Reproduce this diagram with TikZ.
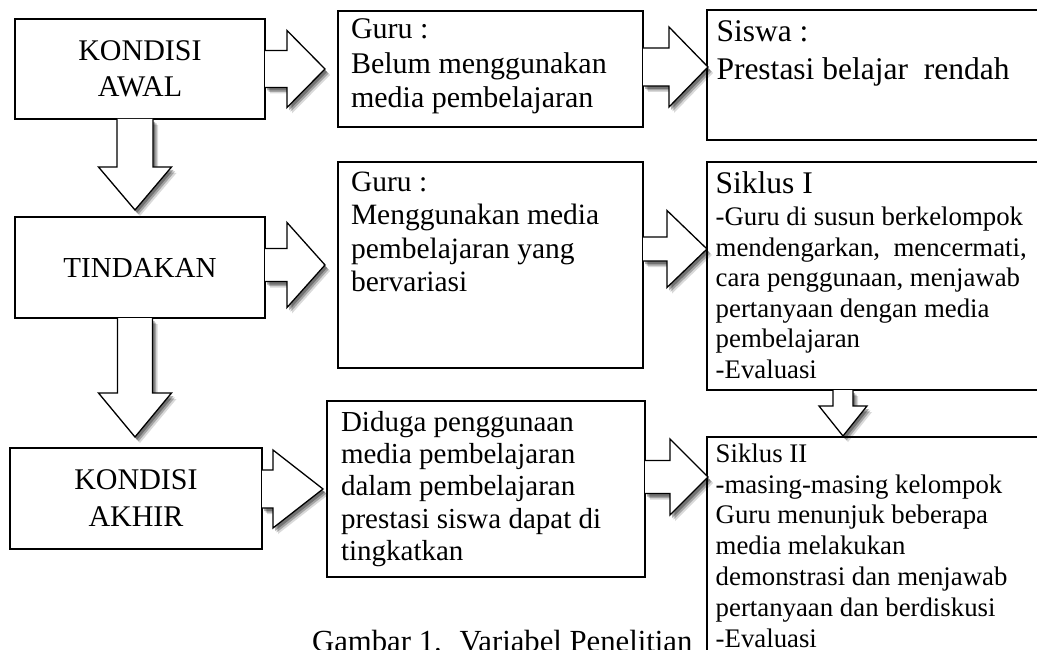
\documentclass[tikz,border=0pt]{standalone}
\usepackage{fontspec}
\setmainfont{Liberation Serif}
\usepackage{tikz}
\usetikzlibrary{positioning,calc,shadows}

% block arrows between boxes: start, tip, shaft half width, head half width, head length
\newcommand{\blockright}[5]{%
  \path[blockarrow] let \p1=(#1), \p2=(#2) in
    (\x1,\y2+#3) -- (\x2-#5,\y2+#3) -- (\x2-#5,\y2+#4) -- (\x2,\y2)
    -- (\x2-#5,\y2-#4) -- (\x2-#5,\y2-#3) -- (\x1,\y2-#3);}
\newcommand{\blockdown}[5]{%
  \path[blockarrow] let \p1=(#1), \p2=(#2) in
    (\x2+#3,\y1) -- (\x2+#3,\y2+#5) -- (\x2+#4,\y2+#5) -- (\x2,\y2)
    -- (\x2-#4,\y2+#5) -- (\x2-#3,\y2+#5) -- (\x2-#3,\y1);}

\begin{document}
\begin{tikzpicture}[x=1pt, y=-1pt,
  box/.style={draw, line width=1.6pt, fill=white, inner sep=0pt, outer sep=0pt},
  stage/.style={box, align=center, minimum width=250, minimum height=100},
  textbox/.style={box, anchor=north west},
  blockarrow/.style={draw, line width=1.3pt, fill=white, line join=miter,
    drop shadow={shadow xshift=5pt, shadow yshift=-6pt, opacity=.15, fill=black},
    drop shadow={shadow xshift=3.5pt, shadow yshift=-4.5pt, opacity=.25, fill=black},
    drop shadow={shadow xshift=2pt, shadow yshift=-3pt, opacity=.3, fill=black}}]

  \useasboundingbox (0,0) rectangle (1037,650);

  % Define nodes
  \node[stage, font=\fontsize{30}{36}\selectfont] (awal) at (140,69) {KONDISI\\AWAL};
  \node[stage, font=\fontsize{29}{34}\selectfont, minimum height=101] (tindakan) at (140,267.5) {TINDAKAN};
  \node[stage, font=\fontsize{30}{37}\selectfont, minimum width=252, minimum height=101] (akhir) at (136,498.5) {KONDISI\\AKHIR};

  \node[textbox, inner xsep=13, inner ysep=7.7, font=\fontsize{30}{34.5}\selectfont] (guru1) at (338,11)
    {\parbox[t][100.6pt][t]{279pt}{\raggedright Guru :\\ Belum menggunakan\\ media pembelajaran}};
  \node[textbox, inner xsep=13, inner ysep=10, font=\fontsize{29.5}{33.3}\selectfont] (guru2) at (338,162)
    {\parbox[t][186pt][t]{279pt}{\raggedright Guru :\\ Menggunakan media\\ pembelajaran yang\\ bervariasi}};
  \node[textbox, inner xsep=14, inner ysep=10.2, font=\fontsize{29}{32.3}\selectfont] (diduga) at (327,401)
    {\parbox[t][155.6pt][t]{290pt}{\raggedright Diduga penggunaan\\ media pembelajaran\\ dalam pembelajaran\\ prestasi siswa dapat di\\ tingkatkan}};

  \node[textbox, inner xsep=9.5, inner ysep=10.7, font=\fontsize{31.5}{38}\selectfont] (siswa) at (707,10)
    {\parbox[t][108.6pt][t]{334pt}{\raggedright Siswa :\\ Prestasi belajar~ rendah}};
  \node[textbox, inner xsep=8.7, inner ysep=9.5, font=\fontsize{26.8}{30.5}\selectfont] (siklus1) at (707,162)
    {\parbox[t][209pt][t]{335pt}{\raggedright {\fontsize{31.5}{36}\selectfont Siklus I}\\[2pt]
     -Guru di susun berkelompok\\ mendengarkan,~ mencermati,\\ cara penggunaan, menjawab\\
     pertanyaan dengan media\\ pembelajaran\\ -Evaluasi}};
  \node[textbox, inner xsep=8.7, inner ysep=6.7, font=\fontsize{26.8}{30.8}\selectfont] (siklus2) at (707,437)
    {\parbox[t][250pt][t]{335pt}{\raggedright Siklus II\\ -masing-masing kelompok\\ Guru menunjuk beberapa\\
     media melakukan\\ demonstrasi dan menjawab\\ pertanyaan dan berdiskusi\\ -Evaluasi}};

  \node[font=\fontsize{30.7}{36}\selectfont, anchor=base west, inner sep=0pt] (caption) at (312,651)
    {Gambar 1.~ Variabel Penelitian};

  % Draw arrows
  \blockright{awal.east}{$(guru1.west)+(-13,0)$}{18.5}{38.5}{38}
  \blockright{guru1.east}{$(siswa.north west)+(1,57)$}{19}{40}{39}
  \blockright{tindakan.east}{$(guru2.west)+(-13,0)$}{16.5}{42.5}{38}
  \blockright{guru2.east}{$(siklus1.north west)+(0,87)$}{12}{38.5}{40}
  \blockright{akhir.east}{$(diduga.west)+(-4,0)$}{19}{39}{50}
  \blockright{diduga.east}{$(siklus2.north west)+(1,40)$}{16.5}{38}{38}

  \blockdown{awal.south}{$(tindakan.north)+(-5,-7)$}{18}{36.5}{43}
  \blockdown{tindakan.south}{$(akhir.north)+(-1,-11)$}{17.5}{36.5}{44}
  \blockdown{siklus1.south}{$(siklus2.north west)+(136,-1)$}{10}{24}{30}
\end{tikzpicture}
\end{document}
